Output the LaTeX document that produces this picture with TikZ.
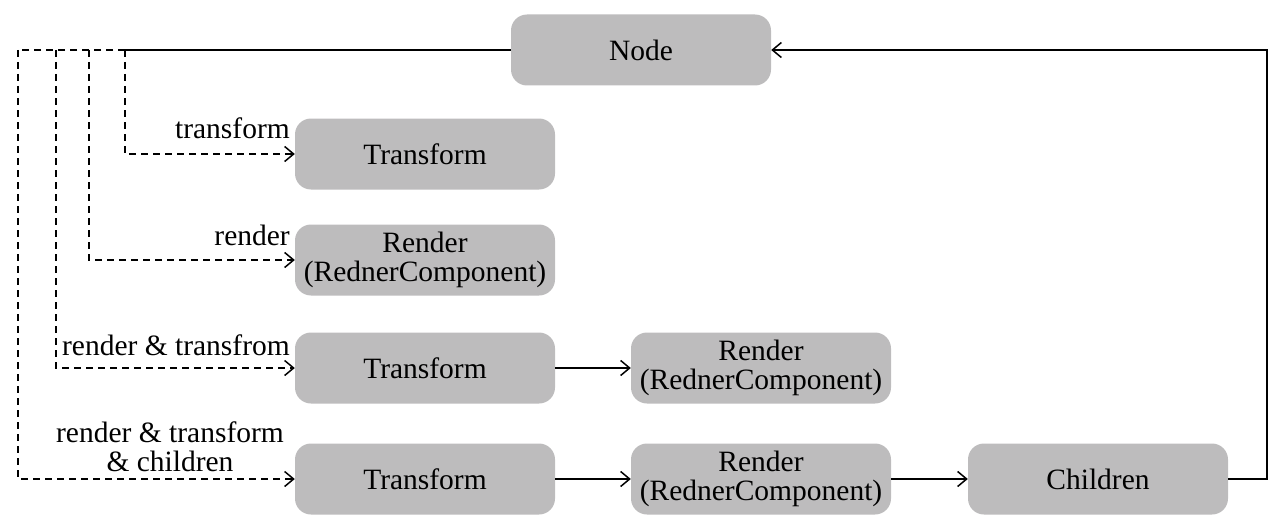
\documentclass[tikz,border=0pt]{standalone}
\usepackage{fontspec}
\setmainfont{Liberation Serif}
\usetikzlibrary{arrows.meta}
\definecolor{boxgrey}{RGB}{189,188,189}
\tikzset{
  box/.style={fill=boxgrey, draw=none, rounded corners=16pt, minimum width=260pt, minimum height=71pt, inner sep=0pt, align=center, font=\fontsize{29.5}{29}\selectfont},
  lbl/.style={inner sep=0pt, align=center, font=\fontsize{29.5}{29}\selectfont},
  conn/.style={line width=1.5pt, -{Straight Barb[length=9pt, width=15pt, line width=1.5pt]}},
  plain/.style={line width=1.5pt},
  dconn/.style={conn, dash pattern=on 7pt off 5pt},
  dplain/.style={plain, dash pattern=on 7pt off 5pt}
}
\begin{document}
\begin{tikzpicture}[x=1pt,y=-1pt]
\useasboundingbox (0,0) rectangle (1280,527);
\node[box] (node) at (641,50) {Node};
\node[box] (t1) at (425,154) {Transform};
\node[box] (r1) at (425,260) {Render\\(RednerComponent)};
\node[box] (t2) at (425,368) {Transform};
\node[box] (r2) at (761,368) {Render\\(RednerComponent)};
\node[box] (t3) at (425,479) {Transform};
\node[box] (r3) at (761,479) {Render\\(RednerComponent)};
\node[box] (ch) at (1098,479) {Children};

\coordinate (j0) at (125,50);
\coordinate (j1) at (89,50);
\coordinate (j2) at (56,50);
\coordinate (j3) at (18,50);
\coordinate (rc) at (1267,50);

\draw[plain] (node.west) -- (j0);
\draw[dplain] (j0) -- (j3);
\draw[dconn] (j0) |- (t1.west);
\draw[dconn] (j1) |- (r1.west);
\draw[dconn] (j2) |- (t2.west);
\draw[dconn] (j3) |- (t3.west);

\draw[conn] (t2) -- (r2);
\draw[conn] (t3) -- (r3);
\draw[conn] (r3) -- (ch);
\draw[conn] (ch.east) -| (rc) -- (node.east);

\node[lbl, anchor=base east] (l1) at (290,138) {transform};
\node[lbl, anchor=base east] (l2) at (290,245) {render};
\node[lbl, anchor=base east] (l3) at (290,355) {render \& transfrom};
\node[lbl, anchor=base] (l4) at (170,471) {render \& transform\\\& children};
\end{tikzpicture}
\end{document}
